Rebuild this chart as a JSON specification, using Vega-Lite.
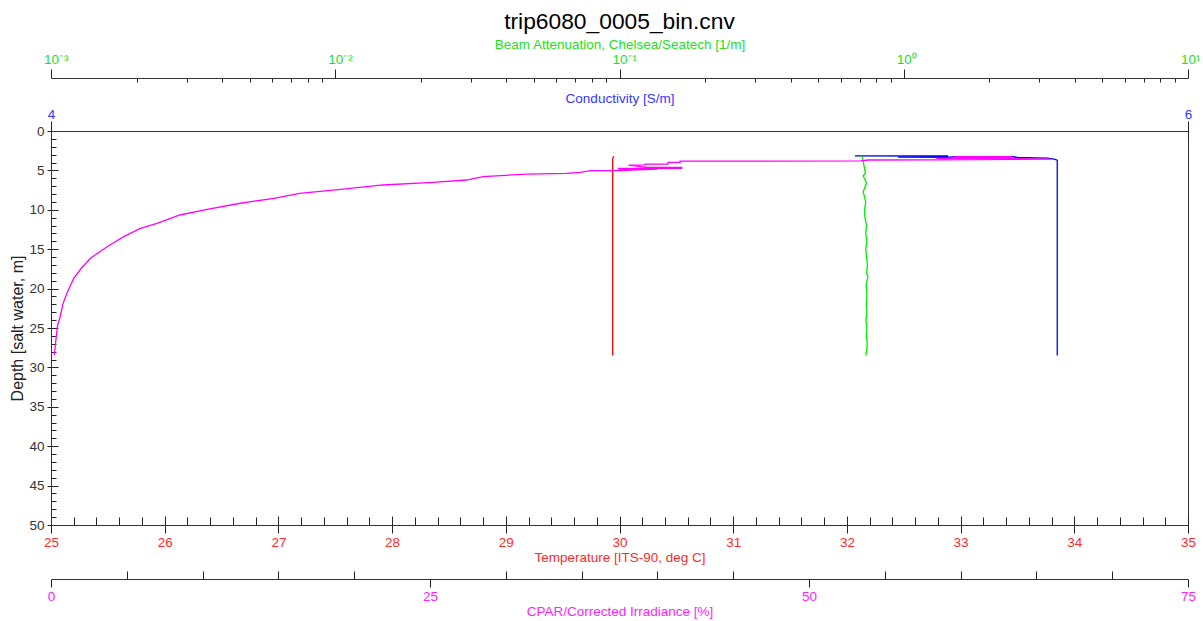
{
  "$schema": "https://vega.github.io/schema/vega-lite/v6.json",
  "width": 1137,
  "height": 394,
  "autosize": {"type": "none"},
  "padding": {"left": 51, "top": 131, "right": 15, "bottom": 96},
  "background": "white",
  "title": {"text": "trip6080_0005_bin.cnv", "font": "Liberation Sans", "fontSize": 22.8, "fontWeight": "normal", "color": "black", "anchor": "middle", "offset": 3},
  "config": {
    "view": {"stroke": "#333", "strokeWidth": 1},
    "axis": {"labelFont": "Liberation Sans", "titleFont": "Liberation Sans", "labelFontSize": 13.5, "titleFontSize": 13.5, "titleFontWeight": "normal", "grid": false, "domainColor": "#333", "tickColor": "#222", "labelOverlap": false, "labelFlush": false, "labelBound": false}
  },
  "datasets": {
    "temp": [
      {"i": 1, "depth": 3.2, "temperature": 29.95},
      {"i": 2, "depth": 3.5, "temperature": 29.94},
      {"i": 3, "depth": 4, "temperature": 29.94},
      {"i": 4, "depth": 5, "temperature": 29.94},
      {"i": 5, "depth": 6, "temperature": 29.94},
      {"i": 6, "depth": 7, "temperature": 29.94},
      {"i": 7, "depth": 8, "temperature": 29.94},
      {"i": 8, "depth": 9, "temperature": 29.94},
      {"i": 9, "depth": 10, "temperature": 29.94},
      {"i": 10, "depth": 12, "temperature": 29.94},
      {"i": 11, "depth": 14, "temperature": 29.94},
      {"i": 12, "depth": 16, "temperature": 29.94},
      {"i": 13, "depth": 18, "temperature": 29.94},
      {"i": 14, "depth": 20, "temperature": 29.94},
      {"i": 15, "depth": 22, "temperature": 29.94},
      {"i": 16, "depth": 24, "temperature": 29.94},
      {"i": 17, "depth": 26, "temperature": 29.94},
      {"i": 18, "depth": 28, "temperature": 29.94},
      {"i": 19, "depth": 28.5, "temperature": 29.94}
    ],
    "cond": [
      {"i": 1, "depth": 3.15, "conductivity": 5.414},
      {"i": 2, "depth": 3.17, "conductivity": 5.578},
      {"i": 3, "depth": 3.32, "conductivity": 5.49},
      {"i": 4, "depth": 3.33, "conductivity": 5.58},
      {"i": 5, "depth": 3.25, "conductivity": 5.59},
      {"i": 6, "depth": 3.27, "conductivity": 5.693},
      {"i": 7, "depth": 3.36, "conductivity": 5.70},
      {"i": 8, "depth": 3.45, "conductivity": 5.752},
      {"i": 9, "depth": 3.55, "conductivity": 5.763},
      {"i": 10, "depth": 3.7, "conductivity": 5.770},
      {"i": 11, "depth": 5, "conductivity": 5.770},
      {"i": 12, "depth": 8, "conductivity": 5.770},
      {"i": 13, "depth": 12, "conductivity": 5.770},
      {"i": 14, "depth": 16, "conductivity": 5.770},
      {"i": 15, "depth": 20, "conductivity": 5.770},
      {"i": 16, "depth": 24, "conductivity": 5.770},
      {"i": 17, "depth": 28.5, "conductivity": 5.770}
    ],
    "beam": [
      {"i": 1, "depth": 3.2, "beam": 0.713},
      {"i": 2, "depth": 3.9, "beam": 0.72},
      {"i": 3, "depth": 5.3, "beam": 0.733},
      {"i": 4, "depth": 5.7, "beam": 0.72},
      {"i": 5, "depth": 6.6, "beam": 0.74},
      {"i": 6, "depth": 7.7, "beam": 0.72},
      {"i": 7, "depth": 9, "beam": 0.735},
      {"i": 8, "depth": 10, "beam": 0.728},
      {"i": 9, "depth": 11, "beam": 0.73},
      {"i": 10, "depth": 12, "beam": 0.74},
      {"i": 11, "depth": 13, "beam": 0.735},
      {"i": 12, "depth": 14, "beam": 0.742},
      {"i": 13, "depth": 15, "beam": 0.735},
      {"i": 14, "depth": 16, "beam": 0.74},
      {"i": 15, "depth": 17, "beam": 0.745},
      {"i": 16, "depth": 18, "beam": 0.74},
      {"i": 17, "depth": 18.5, "beam": 0.748},
      {"i": 18, "depth": 19.5, "beam": 0.738},
      {"i": 19, "depth": 21, "beam": 0.742},
      {"i": 20, "depth": 22, "beam": 0.738},
      {"i": 21, "depth": 23, "beam": 0.742},
      {"i": 22, "depth": 24, "beam": 0.736},
      {"i": 23, "depth": 25, "beam": 0.742},
      {"i": 24, "depth": 26, "beam": 0.738},
      {"i": 25, "depth": 27, "beam": 0.744},
      {"i": 26, "depth": 28, "beam": 0.74},
      {"i": 27, "depth": 28.5, "beam": 0.735}
    ],
    "cpar": [
      {"i": 1, "depth": 3.24, "cpar": 59.6},
      {"i": 2, "depth": 3.26, "cpar": 63.4},
      {"i": 3, "depth": 3.30, "cpar": 59.8},
      {"i": 4, "depth": 3.32, "cpar": 63.3},
      {"i": 5, "depth": 3.44, "cpar": 61.0},
      {"i": 6, "depth": 3.46, "cpar": 58.4},
      {"i": 7, "depth": 3.50, "cpar": 63.4},
      {"i": 8, "depth": 3.58, "cpar": 66.0},
      {"i": 9, "depth": 3.60, "cpar": 63.5},
      {"i": 10, "depth": 3.66, "cpar": 58.4},
      {"i": 11, "depth": 3.68, "cpar": 53.9},
      {"i": 12, "depth": 3.80, "cpar": 53.4},
      {"i": 13, "depth": 3.82, "cpar": 41.5},
      {"i": 14, "depth": 3.97, "cpar": 41.5},
      {"i": 15, "depth": 3.98, "cpar": 40.7},
      {"i": 16, "depth": 4.19, "cpar": 40.7},
      {"i": 17, "depth": 4.20, "cpar": 39.2},
      {"i": 18, "depth": 4.31, "cpar": 39.2},
      {"i": 19, "depth": 4.32, "cpar": 38.1},
      {"i": 20, "depth": 4.61, "cpar": 39.3},
      {"i": 21, "depth": 4.62, "cpar": 41.6},
      {"i": 22, "depth": 4.73, "cpar": 41.6},
      {"i": 23, "depth": 4.74, "cpar": 37.4},
      {"i": 24, "depth": 4.82, "cpar": 37.5},
      {"i": 25, "depth": 4.83, "cpar": 40.0},
      {"i": 26, "depth": 5.02, "cpar": 37.4},
      {"i": 27, "depth": 5.04, "cpar": 35.6},
      {"i": 28, "depth": 5.24, "cpar": 34.9},
      {"i": 29, "depth": 5.37, "cpar": 34.0},
      {"i": 30, "depth": 5.46, "cpar": 31.4},
      {"i": 31, "depth": 5.80, "cpar": 28.5},
      {"i": 32, "depth": 6.22, "cpar": 27.4},
      {"i": 33, "depth": 6.51, "cpar": 25.2},
      {"i": 34, "depth": 6.85, "cpar": 21.9},
      {"i": 35, "depth": 7.40, "cpar": 19.1},
      {"i": 36, "depth": 7.91, "cpar": 16.4},
      {"i": 37, "depth": 8.54, "cpar": 14.7},
      {"i": 38, "depth": 9.17, "cpar": 12.5},
      {"i": 39, "depth": 9.94, "cpar": 10.3},
      {"i": 40, "depth": 10.66, "cpar": 8.5},
      {"i": 41, "depth": 11.71, "cpar": 7.0},
      {"i": 42, "depth": 12.35, "cpar": 5.9},
      {"i": 43, "depth": 13.41, "cpar": 4.8},
      {"i": 44, "depth": 14.68, "cpar": 3.7},
      {"i": 45, "depth": 16.15, "cpar": 2.6},
      {"i": 46, "depth": 17.42, "cpar": 2.0},
      {"i": 47, "depth": 18.69, "cpar": 1.5},
      {"i": 48, "depth": 20.6, "cpar": 1.05},
      {"i": 49, "depth": 21.87, "cpar": 0.8},
      {"i": 50, "depth": 23.57, "cpar": 0.6},
      {"i": 51, "depth": 24.83, "cpar": 0.42},
      {"i": 52, "depth": 26.94, "cpar": 0.3},
      {"i": 53, "depth": 28.43, "cpar": 0.22}
    ]
  },
  "encoding": {
    "y": {
      "field": "depth", "type": "quantitative",
      "scale": {"domain": [0, 50], "reverse": true, "nice": false, "zero": false},
      "axis": {
        "orient": "left",
        "title": "Depth [salt water, m]",
        "titleFontSize": 16, "titleColor": "#222", "titlePadding": 3,
        "values": [0,1,2,3,4,5,6,7,8,9,10,11,12,13,14,15,16,17,18,19,20,21,22,23,24,25,26,27,28,29,30,31,32,33,34,35,36,37,38,39,40,41,42,43,44,45,46,47,48,49,50],
        "labelExpr": "datum.value % 5 === 0 ? format(datum.value, 'd') : ''",
        "labelColor": "#333",
        "labelPadding": 3,
        "tickSize": {"condition": {"test": "datum.value % 5 === 0", "value": 4}, "value": -5},
        "grid": true,
        "gridDash": [7, 3000],
        "gridColor": "#222",
        "gridOpacity": {"condition": {"test": "datum.value % 5 === 0", "value": 1}, "value": 0}
      }
    },
    "order": {"field": "i", "type": "quantitative"}
  },
  "layer": [
    {
      "data": {"name": "temp"},
      "mark": {"type": "line", "color": "#ff0000", "strokeWidth": 1.3},
      "encoding": {
        "x": {
          "field": "temperature", "type": "quantitative",
          "scale": {"domain": [25, 35], "nice": false, "zero": false},
          "axis": {
            "orient": "bottom", "offset": 0,
            "title": "Temperature [ITS-90, deg C]", "titleColor": "#ff2a2a", "titlePadding": 2,
            "values": [25,25.2,25.4,25.6,25.8,26,26.2,26.4,26.6,26.8,27,27.2,27.4,27.6,27.8,28,28.2,28.4,28.6,28.8,29,29.2,29.4,29.6,29.8,30,30.2,30.4,30.6,30.8,31,31.2,31.4,31.6,31.8,32,32.2,32.4,32.6,32.8,33,33.2,33.4,33.6,33.8,34,34.2,34.4,34.6,34.8,35],
            "labelExpr": "abs(datum.value - round(datum.value)) < 0.001 ? format(datum.value, 'd') : ''",
            "labelColor": "#ff2a2a", "labelPadding": 2,
            "tickSize": {"condition": {"test": "abs(datum.value - round(datum.value)) < 0.001", "value": 8}, "value": -8},
            "grid": true, "gridDash": [9, 3000], "gridColor": "#222",
            "gridOpacity": {"condition": {"test": "abs(datum.value - round(datum.value)) < 0.001", "value": 1}, "value": 0}
          }
        }
      }
    },
    {
      "data": {"name": "cond"},
      "mark": {"type": "line", "color": "#0000ff", "strokeWidth": 1.3},
      "encoding": {
        "x": {
          "field": "conductivity", "type": "quantitative",
          "scale": {"domain": [4, 6], "nice": false, "zero": false},
          "axis": {
            "orient": "top", "offset": 0,
            "title": "Conductivity [S/m]", "titleColor": "#3535ff", "titlePadding": 2,
            "values": [4, 5, 6], "format": "d",
            "labelColor": "#3535ff", "labelPadding": 0,
            "tickSize": 10,
            "grid": true, "gridDash": [9, 3000], "gridColor": "#222"
          }
        }
      }
    },
    {
      "data": {"name": "beam"},
      "mark": {"type": "line", "color": "#00ee00", "strokeWidth": 1.3},
      "encoding": {
        "x": {
          "field": "beam", "type": "quantitative",
          "scale": {"type": "log", "domain": [0.001, 10], "nice": false},
          "axis": {
            "orient": "top", "offset": 53,
            "title": "Beam Attenuation, Chelsea/Seatech [1/m]", "titleColor": "#22e022", "titlePadding": 1,
            "values": [0.001,0.002,0.003,0.004,0.005,0.006,0.007,0.008,0.009,0.01,0.02,0.03,0.04,0.05,0.06,0.07,0.08,0.09,0.1,0.2,0.3,0.4,0.5,0.6,0.7,0.8,0.9,1,2,3,4,5,6,7,8,9,10],
            "labelExpr": "abs(log(datum.value)/LN10 - round(log(datum.value)/LN10)) < 0.001 ? ['10⁻³','10⁻²','10⁻¹','10⁰','10¹'][round(log(datum.value)/LN10) + 3] : ''",
            "labelColor": "#22e022", "labelPadding": 3, "labelAlign": "left", "labelOffset": -7.5,
            "tickSize": {"condition": {"test": "abs(log(datum.value)/LN10 - round(log(datum.value)/LN10)) < 0.001", "value": 9}, "value": -4}
          }
        }
      }
    },
    {
      "data": {"name": "cpar"},
      "mark": {"type": "line", "color": "#ff00ff", "strokeWidth": 1.3},
      "encoding": {
        "x": {
          "field": "cpar", "type": "quantitative",
          "scale": {"domain": [0, 75], "nice": false, "zero": false},
          "axis": {
            "orient": "bottom", "offset": 54,
            "title": "CPAR/Corrected Irradiance [%]", "titleColor": "#ff22ff", "titlePadding": 2,
            "values": [0,5,10,15,20,25,30,35,40,45,50,55,60,65,70,75],
            "labelExpr": "datum.value % 25 === 0 ? format(datum.value, 'd') : ''",
            "labelColor": "#ff22ff", "labelPadding": 2,
            "tickSize": {"condition": {"test": "datum.value % 25 === 0", "value": 8}, "value": -8}
          }
        }
      }
    }
  ],
  "resolve": {"scale": {"x": "independent"}}
}
